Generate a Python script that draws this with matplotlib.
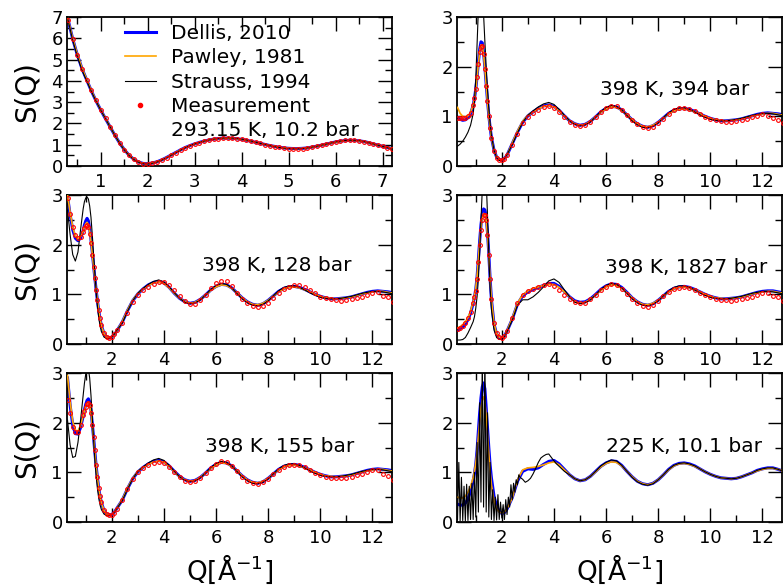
import matplotlib
matplotlib.use('Agg')
import matplotlib.pyplot as plt
from matplotlib.ticker import MultipleLocator
from matplotlib.lines import Line2D

# ---------------- data ----------------
# panel 1: 293.15 K, 10.2 bar
q_293 = [0.3, 0.4, 0.5, 0.6, 0.7, 0.8, 0.9, 1.0, 1.1, 1.2,
         1.3, 1.4, 1.5, 1.6, 1.7, 1.8, 1.9, 2.0, 2.1, 2.2,
         2.3, 2.4, 2.5, 2.6, 2.7, 2.8, 2.9, 3.0, 3.1, 3.2,
         3.3, 3.4, 3.5, 3.6, 3.7, 3.8, 3.9, 4.0, 4.1, 4.2,
         4.3, 4.4, 4.5, 4.6, 4.7, 4.8, 4.9, 5.0, 5.1, 5.2,
         5.3, 5.4, 5.5, 5.6, 5.7, 5.8, 5.9, 6.0, 6.1, 6.2,
         6.3, 6.4, 6.5, 6.6, 6.7, 6.8, 6.9, 7.0, 7.1, 7.2]
meas_293 = [6.85, 5.95, 5.20, 4.55, 4.05, 3.55, 3.08, 2.65, 2.25, 1.85,
            1.45, 1.08, 0.77, 0.51, 0.31, 0.18, 0.11, 0.10, 0.13, 0.19,
            0.28, 0.39, 0.51, 0.63, 0.75, 0.86, 0.95, 1.03, 1.10, 1.16,
            1.21, 1.25, 1.28, 1.30, 1.31, 1.30, 1.28, 1.25, 1.21, 1.16,
            1.11, 1.06, 1.01, 0.96, 0.91, 0.87, 0.84, 0.82, 0.81, 0.81,
            0.82, 0.84, 0.88, 0.92, 0.97, 1.03, 1.08, 1.13, 1.17, 1.20,
            1.21, 1.21, 1.19, 1.15, 1.10, 1.04, 0.98, 0.92, 0.86, 0.81]
dellis_293 = [6.90, 5.98, 5.22, 4.57, 4.04, 3.52, 3.05, 2.62, 2.22, 1.83,
              1.44, 1.08, 0.77, 0.51, 0.32, 0.19, 0.12, 0.11, 0.14, 0.20,
              0.29, 0.40, 0.52, 0.64, 0.76, 0.87, 0.96, 1.04, 1.11, 1.17,
              1.22, 1.26, 1.29, 1.31, 1.31, 1.30, 1.28, 1.25, 1.21, 1.16,
              1.11, 1.06, 1.01, 0.96, 0.92, 0.88, 0.85, 0.83, 0.82, 0.82,
              0.83, 0.85, 0.89, 0.93, 0.98, 1.03, 1.08, 1.13, 1.17, 1.19,
              1.21, 1.20, 1.18, 1.15, 1.10, 1.04, 0.98, 0.92, 0.87, 0.82]
pawley_293 = [6.92, 6.00, 5.25, 4.60, 4.06, 3.54, 3.06, 2.63, 2.23, 1.84,
              1.44, 1.08, 0.77, 0.51, 0.32, 0.19, 0.12, 0.11, 0.14, 0.20,
              0.29, 0.40, 0.52, 0.64, 0.76, 0.87, 0.96, 1.04, 1.11, 1.17,
              1.22, 1.26, 1.29, 1.30, 1.31, 1.30, 1.28, 1.25, 1.21, 1.16,
              1.11, 1.06, 1.01, 0.96, 0.92, 0.88, 0.85, 0.83, 0.82, 0.82,
              0.83, 0.85, 0.89, 0.93, 0.98, 1.03, 1.08, 1.12, 1.16, 1.19,
              1.20, 1.20, 1.18, 1.15, 1.10, 1.04, 0.98, 0.92, 0.87, 0.82]
strauss_293 = [6.88, 5.92, 5.15, 4.50, 4.00, 3.50, 3.04, 2.62, 2.22, 1.83,
               1.44, 1.07, 0.76, 0.50, 0.31, 0.18, 0.11, 0.10, 0.13, 0.19,
               0.28, 0.39, 0.51, 0.63, 0.75, 0.86, 0.96, 1.04, 1.11, 1.17,
               1.22, 1.26, 1.29, 1.31, 1.32, 1.31, 1.29, 1.26, 1.22, 1.17,
               1.12, 1.06, 1.01, 0.96, 0.91, 0.87, 0.84, 0.82, 0.81, 0.81,
               0.82, 0.85, 0.89, 0.93, 0.98, 1.03, 1.08, 1.13, 1.17, 1.20,
               1.21, 1.21, 1.19, 1.15, 1.10, 1.04, 0.98, 0.92, 0.86, 0.81]

# common Q grid for the 398 K and 225 K panels
q_grid = [0.3, 0.4, 0.5, 0.6, 0.7, 0.8, 0.9, 0.95, 1.0, 1.05,
          1.1, 1.15, 1.2, 1.25, 1.3, 1.35, 1.4, 1.45, 1.5, 1.55,
          1.6, 1.7, 1.8, 1.9, 2.0, 2.1, 2.2,
          2.4, 2.6, 2.8, 3.0, 3.2, 3.4, 3.6, 3.8, 4.0, 4.2,
          4.4, 4.6, 4.8, 5.0, 5.2, 5.4, 5.6, 5.8, 6.0, 6.2,
          6.4, 6.6, 6.8, 7.0, 7.2, 7.4, 7.6, 7.8, 8.0, 8.2,
          8.4, 8.6, 8.8, 9.0, 9.2, 9.4, 9.6, 9.8, 10.0, 10.2,
          10.4, 10.6, 10.8, 11.0, 11.2, 11.4, 11.6, 11.8, 12.0, 12.2,
          12.4, 12.6, 12.8]

# panel 2: 398 K, 394 bar
dellis_394 = [0.98, 0.94, 0.92, 0.93, 0.97, 1.05, 1.22, 1.36, 1.55, 1.80,
              2.08, 2.35, 2.50, 2.48, 2.28, 1.98, 1.65, 1.32, 1.02, 0.78,
              0.58, 0.32, 0.18, 0.13, 0.12, 0.15, 0.22,
              0.45, 0.68, 0.88, 1.01, 1.09, 1.16, 1.21, 1.23, 1.20, 1.12,
              1.01, 0.91, 0.85, 0.82, 0.84, 0.90, 0.99, 1.09, 1.16, 1.20,
              1.19, 1.13, 1.03, 0.93, 0.85, 0.80, 0.78, 0.81, 0.88, 0.97,
              1.06, 1.12, 1.15, 1.16, 1.14, 1.10, 1.05, 1.00, 0.96, 0.93,
              0.91, 0.91, 0.92, 0.93, 0.95, 0.98, 1.01, 1.04, 1.06, 1.07,
              1.06, 1.05, 1.03]
pawley_394 = [1.18, 1.06, 1.00, 0.99, 1.01, 1.08, 1.23, 1.36, 1.54, 1.78,
              2.05, 2.30, 2.44, 2.42, 2.24, 1.95, 1.63, 1.30, 1.00, 0.77,
              0.57, 0.32, 0.18, 0.13, 0.12, 0.15, 0.22,
              0.46, 0.70, 0.90, 1.02, 1.09, 1.15, 1.20, 1.22, 1.19, 1.11,
              1.01, 0.91, 0.85, 0.82, 0.84, 0.90, 0.99, 1.08, 1.15, 1.19,
              1.18, 1.12, 1.03, 0.93, 0.85, 0.80, 0.79, 0.82, 0.88, 0.97,
              1.05, 1.11, 1.14, 1.15, 1.13, 1.09, 1.05, 1.00, 0.96, 0.93,
              0.92, 0.91, 0.92, 0.93, 0.95, 0.98, 1.01, 1.03, 1.05, 1.06,
              1.06, 1.04, 1.02]
strauss_394 = [0.40, 0.44, 0.50, 0.58, 0.68, 0.82, 1.05, 1.30, 1.75, 2.45,
               3.15, 3.60, 3.75, 3.55, 3.05, 2.50, 2.00, 1.55, 1.15, 0.85,
               0.62, 0.32, 0.17, 0.11, 0.11, 0.15, 0.23,
               0.43, 0.67, 0.88, 1.02, 1.11, 1.19, 1.25, 1.28, 1.24, 1.14,
               1.02, 0.91, 0.84, 0.81, 0.83, 0.89, 0.99, 1.10, 1.18, 1.22,
               1.20, 1.13, 1.02, 0.91, 0.83, 0.78, 0.77, 0.80, 0.87, 0.97,
               1.07, 1.14, 1.17, 1.17, 1.14, 1.09, 1.03, 0.98, 0.94, 0.92,
               0.91, 0.91, 0.92, 0.94, 0.96, 0.99, 1.02, 1.04, 1.06, 1.06,
               1.05, 1.03, 1.01]
meas_394 = [0.97, 0.97, 0.96, 0.97, 1.00, 1.07, 1.22, 1.36, 1.55, 1.80,
            2.05, 2.30, 2.40, 2.42, 2.25, 1.95, 1.62, 1.30, 1.00, 0.76,
            0.56, 0.30, 0.17, 0.13, 0.12, 0.15, 0.22,
            0.42, 0.65, 0.86, 0.98, 1.06, 1.13, 1.18, 1.20, 1.17, 1.08,
            0.98, 0.88, 0.82, 0.80, 0.82, 0.88, 0.98, 1.08, 1.17, 1.21,
            1.20, 1.13, 1.02, 0.92, 0.84, 0.78, 0.76, 0.79, 0.86, 0.95,
            1.05, 1.12, 1.16, 1.17, 1.15, 1.11, 1.05, 0.99, 0.95, 0.92,
            0.90, 0.89, 0.89, 0.91, 0.93, 0.95, 0.98, 1.01, 1.05, 1.00,
            0.97, 0.93, 0.86]

# panel 3: 398 K, 128 bar
dellis_128 = [2.97, 2.60, 2.30, 2.13, 2.08, 2.13, 2.28, 2.40, 2.48, 2.53,
              2.48, 2.32, 2.10, 1.85, 1.58, 1.32, 1.08, 0.86, 0.66, 0.50,
              0.37, 0.21, 0.14, 0.12, 0.14, 0.19, 0.27,
              0.44, 0.67, 0.87, 1.01, 1.11, 1.19, 1.24, 1.26, 1.23, 1.14,
              1.02, 0.92, 0.85, 0.82, 0.84, 0.90, 0.99, 1.09, 1.16, 1.20,
              1.19, 1.13, 1.03, 0.93, 0.85, 0.80, 0.78, 0.81, 0.88, 0.97,
              1.06, 1.12, 1.15, 1.16, 1.14, 1.10, 1.05, 1.00, 0.96, 0.93,
              0.91, 0.91, 0.92, 0.93, 0.95, 0.98, 1.01, 1.04, 1.06, 1.07,
              1.06, 1.05, 1.03]
pawley_128 = [3.00, 2.65, 2.35, 2.18, 2.12, 2.16, 2.27, 2.36, 2.42, 2.45,
              2.40, 2.26, 2.05, 1.82, 1.56, 1.31, 1.07, 0.86, 0.66, 0.50,
              0.37, 0.21, 0.14, 0.12, 0.14, 0.19, 0.27,
              0.45, 0.68, 0.88, 1.02, 1.11, 1.18, 1.23, 1.25, 1.22, 1.13,
              1.02, 0.92, 0.85, 0.82, 0.84, 0.90, 0.99, 1.08, 1.15, 1.19,
              1.18, 1.12, 1.03, 0.93, 0.85, 0.80, 0.79, 0.82, 0.88, 0.97,
              1.05, 1.11, 1.14, 1.15, 1.13, 1.09, 1.05, 1.00, 0.96, 0.93,
              0.92, 0.91, 0.92, 0.93, 0.95, 0.98, 1.01, 1.03, 1.05, 1.06,
              1.06, 1.04, 1.02]
strauss_128 = [2.70, 2.20, 1.80, 1.67, 1.85, 2.30, 2.72, 2.87, 2.94, 2.96,
               2.92, 2.78, 2.55, 2.20, 1.80, 1.40, 1.05, 0.75, 0.52, 0.36,
               0.25, 0.14, 0.11, 0.11, 0.14, 0.20, 0.28,
               0.42, 0.66, 0.87, 1.02, 1.12, 1.20, 1.26, 1.29, 1.25, 1.15,
               1.03, 0.92, 0.84, 0.81, 0.83, 0.89, 0.99, 1.10, 1.18, 1.22,
               1.20, 1.13, 1.02, 0.91, 0.83, 0.78, 0.77, 0.80, 0.87, 0.97,
               1.07, 1.14, 1.17, 1.17, 1.14, 1.09, 1.03, 0.98, 0.94, 0.92,
               0.91, 0.91, 0.92, 0.94, 0.96, 0.99, 1.02, 1.04, 1.06, 1.06,
               1.05, 1.03, 1.01]
meas_128 = [2.94, 2.62, 2.36, 2.20, 2.13, 2.16, 2.26, 2.33, 2.38, 2.40,
            2.36, 2.22, 2.03, 1.80, 1.56, 1.33, 1.09, 0.89, 0.69, 0.52,
            0.39, 0.22, 0.15, 0.13, 0.15, 0.20, 0.28,
            0.42, 0.62, 0.85, 0.99, 1.08, 1.15, 1.21, 1.25, 1.25, 1.18,
            1.08, 0.97, 0.87, 0.81, 0.81, 0.88, 0.99, 1.12, 1.22, 1.27,
            1.26, 1.16, 1.03, 0.91, 0.82, 0.76, 0.74, 0.76, 0.82, 0.92,
            1.02, 1.10, 1.15, 1.19, 1.19, 1.15, 1.09, 1.02, 0.95, 0.92,
            0.90, 0.88, 0.87, 0.88, 0.90, 0.92, 0.95, 0.99, 1.03, 1.05,
            0.96, 0.94, 0.85]

# panel 4: 398 K, 1827 bar
dellis_1827 = [0.28, 0.31, 0.34, 0.40, 0.49, 0.62, 0.82, 0.95, 1.10, 1.35,
               1.70, 2.08, 2.40, 2.62, 2.72, 2.70, 2.56, 2.25, 1.82, 1.32,
               0.90, 0.40, 0.20, 0.13, 0.12, 0.16, 0.26,
               0.50, 0.80, 0.97, 1.05, 1.10, 1.14, 1.18, 1.22, 1.22, 1.16,
               1.06, 0.95, 0.87, 0.84, 0.85, 0.91, 1.00, 1.10, 1.17, 1.21,
               1.20, 1.14, 1.04, 0.93, 0.85, 0.80, 0.78, 0.81, 0.88, 0.97,
               1.06, 1.12, 1.15, 1.16, 1.14, 1.10, 1.05, 1.00, 0.96, 0.93,
               0.91, 0.91, 0.92, 0.93, 0.95, 0.98, 1.01, 1.04, 1.06, 1.07,
               1.07, 1.05, 1.03]
pawley_1827 = [0.32, 0.35, 0.39, 0.45, 0.53, 0.66, 0.85, 0.98, 1.13, 1.37,
               1.70, 2.05, 2.35, 2.55, 2.63, 2.61, 2.48, 2.20, 1.79, 1.31,
               0.90, 0.41, 0.21, 0.14, 0.12, 0.16, 0.26,
               0.52, 0.82, 0.99, 1.07, 1.12, 1.15, 1.18, 1.20, 1.20, 1.14,
               1.05, 0.95, 0.85, 0.82, 0.84, 0.90, 0.99, 1.08, 1.15, 1.19,
               1.18, 1.12, 1.03, 0.93, 0.85, 0.80, 0.79, 0.82, 0.88, 0.97,
               1.05, 1.11, 1.14, 1.15, 1.13, 1.09, 1.05, 1.00, 0.96, 0.93,
               0.92, 0.91, 0.92, 0.93, 0.95, 0.98, 1.01, 1.03, 1.05, 1.06,
               1.06, 1.04, 1.02]
strauss_1827 = [0.08, 0.08, 0.09, 0.13, 0.22, 0.33, 0.45, 0.55, 0.72, 0.95,
                1.30, 1.85, 2.50, 3.10, 3.60, 3.70, 3.30, 2.60, 1.80, 1.15,
                0.70, 0.28, 0.13, 0.09, 0.10, 0.15, 0.25,
                0.48, 0.78, 0.89, 0.89, 0.95, 1.04, 1.15, 1.27, 1.31, 1.24,
                1.09, 0.95, 0.84, 0.81, 0.83, 0.89, 0.99, 1.10, 1.18, 1.22,
                1.20, 1.13, 1.02, 0.91, 0.83, 0.78, 0.77, 0.80, 0.87, 0.97,
                1.07, 1.14, 1.17, 1.17, 1.14, 1.09, 1.03, 0.98, 0.94, 0.92,
                0.91, 0.91, 0.92, 0.94, 0.96, 0.99, 1.02, 1.04, 1.06, 1.06,
                1.05, 1.03, 1.01]
meas_1827 = [0.30, 0.33, 0.37, 0.43, 0.52, 0.65, 0.82, 0.94, 1.07, 1.30,
             1.65, 2.00, 2.30, 2.50, 2.60, 2.60, 2.50, 2.20, 1.80, 1.30,
             0.90, 0.42, 0.22, 0.14, 0.12, 0.16, 0.26,
             0.52, 0.82, 0.98, 1.06, 1.11, 1.15, 1.18, 1.20, 1.17, 1.08,
             0.98, 0.90, 0.85, 0.83, 0.83, 0.90, 0.99, 1.08, 1.15, 1.20,
             1.19, 1.11, 1.00, 0.90, 0.82, 0.76, 0.75, 0.79, 0.87, 0.97,
             1.05, 1.10, 1.13, 1.14, 1.13, 1.08, 1.03, 0.98, 0.94, 0.91,
             0.89, 0.88, 0.87, 0.88, 0.90, 0.93, 0.95, 0.98, 1.02, 1.03,
             0.97, 0.95, 0.87]

# panel 5: 398 K, 155 bar
dellis_155 = [2.90, 2.35, 1.95, 1.78, 1.77, 1.90, 2.13, 2.26, 2.37, 2.45,
              2.48, 2.42, 2.25, 1.98, 1.70, 1.40, 1.12, 0.88, 0.67, 0.51,
              0.39, 0.23, 0.16, 0.14, 0.15, 0.20, 0.28,
              0.44, 0.67, 0.87, 1.01, 1.10, 1.17, 1.22, 1.24, 1.21, 1.13,
              1.02, 0.92, 0.85, 0.82, 0.84, 0.90, 0.99, 1.09, 1.16, 1.20,
              1.19, 1.13, 1.03, 0.93, 0.85, 0.80, 0.78, 0.81, 0.88, 0.97,
              1.06, 1.12, 1.15, 1.16, 1.14, 1.10, 1.05, 1.00, 0.96, 0.93,
              0.91, 0.91, 0.92, 0.93, 0.95, 0.98, 1.01, 1.04, 1.06, 1.07,
              1.06, 1.05, 1.03]
pawley_155 = [2.95, 2.42, 2.02, 1.85, 1.83, 1.94, 2.14, 2.25, 2.34, 2.40,
              2.42, 2.36, 2.20, 1.95, 1.68, 1.39, 1.11, 0.87, 0.67, 0.51,
              0.39, 0.23, 0.16, 0.14, 0.15, 0.20, 0.28,
              0.45, 0.68, 0.88, 1.02, 1.10, 1.16, 1.21, 1.23, 1.20, 1.12,
              1.01, 0.91, 0.85, 0.82, 0.84, 0.90, 0.99, 1.08, 1.15, 1.19,
              1.18, 1.12, 1.03, 0.93, 0.85, 0.80, 0.79, 0.82, 0.88, 0.97,
              1.05, 1.11, 1.14, 1.15, 1.13, 1.09, 1.05, 1.00, 0.96, 0.93,
              0.92, 0.91, 0.92, 0.93, 0.95, 0.98, 1.01, 1.03, 1.05, 1.06,
              1.06, 1.04, 1.02]
strauss_155 = [2.05, 1.55, 1.30, 1.32, 1.60, 2.05, 2.55, 2.80, 2.98, 3.08,
               3.08, 2.90, 2.55, 2.10, 1.65, 1.25, 0.92, 0.66, 0.47, 0.34,
               0.25, 0.16, 0.13, 0.13, 0.15, 0.20, 0.28,
               0.43, 0.66, 0.87, 1.02, 1.11, 1.19, 1.25, 1.28, 1.24, 1.14,
               1.02, 0.91, 0.84, 0.81, 0.83, 0.89, 0.99, 1.10, 1.18, 1.22,
               1.20, 1.13, 1.02, 0.91, 0.83, 0.78, 0.77, 0.80, 0.87, 0.97,
               1.07, 1.14, 1.17, 1.17, 1.14, 1.09, 1.03, 0.98, 0.94, 0.92,
               0.91, 0.91, 0.92, 0.94, 0.96, 0.99, 1.02, 1.04, 1.06, 1.06,
               1.05, 1.03, 1.01]
meas_155 = [2.46, 2.20, 1.92, 1.81, 1.82, 1.95, 2.15, 2.24, 2.32, 2.37,
            2.40, 2.36, 2.20, 1.95, 1.72, 1.45, 1.15, 0.90, 0.68, 0.52,
            0.40, 0.24, 0.17, 0.14, 0.14, 0.19, 0.27,
            0.44, 0.66, 0.87, 1.00, 1.08, 1.14, 1.19, 1.21, 1.19, 1.11,
            1.00, 0.90, 0.83, 0.81, 0.82, 0.88, 0.98, 1.09, 1.17, 1.22,
            1.21, 1.13, 1.02, 0.91, 0.83, 0.78, 0.77, 0.80, 0.87, 0.96,
            1.05, 1.11, 1.14, 1.15, 1.14, 1.10, 1.04, 0.98, 0.94, 0.91,
            0.89, 0.88, 0.88, 0.89, 0.91, 0.94, 0.97, 1.00, 1.04, 1.05,
            0.96, 0.93, 0.85]

# panel 6: 225 K, 10.1 bar (no measurement)
dellis_225 = [0.36, 0.34, 0.34, 0.38, 0.46, 0.62, 0.83, 0.98, 1.16, 1.45,
              1.83, 2.20, 2.50, 2.72, 2.80, 2.68, 2.30, 1.90, 1.50, 1.15,
              0.89, 0.52, 0.32, 0.22, 0.17, 0.19, 0.26,
              0.49, 0.82, 1.02, 1.07, 1.06, 1.09, 1.16, 1.22, 1.24, 1.17,
              1.06, 0.95, 0.87, 0.83, 0.85, 0.92, 1.02, 1.12, 1.19, 1.23,
              1.22, 1.14, 1.02, 0.91, 0.82, 0.77, 0.75, 0.78, 0.85, 0.95,
              1.06, 1.14, 1.18, 1.19, 1.17, 1.13, 1.07, 1.01, 0.96, 0.92,
              0.89, 0.88, 0.87, 0.88, 0.91, 0.95, 0.99, 1.04, 1.07, 1.09,
              1.09, 1.06, 1.02]
pawley_225 = [0.50, 0.48, 0.48, 0.52, 0.60, 0.72, 0.89, 1.02, 1.18, 1.42,
              1.72, 2.02, 2.28, 2.46, 2.52, 2.42, 2.12, 1.76, 1.38, 1.02,
              0.75, 0.42, 0.27, 0.20, 0.18, 0.20, 0.27,
              0.48, 0.85, 1.05, 1.09, 1.10, 1.12, 1.15, 1.19, 1.21, 1.15,
              1.05, 0.95, 0.87, 0.83, 0.85, 0.92, 1.01, 1.11, 1.18, 1.21,
              1.20, 1.13, 1.02, 0.91, 0.82, 0.77, 0.75, 0.78, 0.85, 0.95,
              1.05, 1.13, 1.17, 1.18, 1.16, 1.12, 1.07, 1.01, 0.96, 0.92,
              0.89, 0.88, 0.87, 0.88, 0.91, 0.95, 0.99, 1.03, 1.06, 1.08,
              1.08, 1.06, 1.02]
q_strauss_225 = [0.30, 0.35, 0.40, 0.45, 0.50, 0.55, 0.60, 0.65, 0.70, 0.75,
                 0.80, 0.85, 0.90, 0.95, 1.00, 1.05, 1.10, 1.15, 1.20, 1.25,
                 1.30, 1.35, 1.40, 1.45, 1.50, 1.55, 1.60, 1.65, 1.70, 1.75,
                 1.80, 1.85, 1.90, 1.95, 2.00, 2.05, 2.10, 2.15, 2.20, 2.25,
                 2.30, 2.35, 2.40, 2.45, 2.50, 2.55, 2.60, 2.65, 2.70,
                 2.8, 2.9, 3.0, 3.1, 3.2, 3.3, 3.4, 3.5, 3.6, 3.7,
                 3.8, 3.9, 4.0, 4.1, 4.2, 4.3, 4.4,
                 4.6, 4.8, 5.0, 5.2, 5.4, 5.6, 5.8, 6.0, 6.2, 6.4,
                 6.6, 6.8, 7.0, 7.2, 7.4, 7.6, 7.8, 8.0, 8.2, 8.4,
                 8.6, 8.8, 9.0, 9.2, 9.4, 9.6, 9.8, 10.0, 10.2, 10.4,
                 10.6, 10.8, 11.0, 11.2, 11.4, 11.6, 11.8, 12.0, 12.2, 12.4,
                 12.6, 12.8]
strauss_225 = [0.05, 1.20, 0.02, 0.90, 0.03, 0.72, 0.02, 0.76, 0.03, 0.72,
               0.05, 0.78, 0.05, 1.00, 0.10, 1.60, 0.20, 2.40, 0.40, 3.30,
               0.30, 3.40, 0.20, 2.20, 0.10, 1.20, 0.05, 0.65, 0.03, 0.50,
               0.04, 0.55, 0.05, 0.40, 0.08, 0.35, 0.05, 0.45, 0.15, 0.50,
               0.30, 0.75, 0.45, 0.78, 0.60, 0.85, 0.75, 0.95, 0.90,
               0.86, 0.80, 0.83, 0.88, 0.97, 1.08, 1.20, 1.29, 1.33, 1.36,
               1.37, 1.30, 1.23, 1.17, 1.12, 1.07, 1.02,
               0.95, 0.87, 0.83, 0.85, 0.92, 1.02, 1.13, 1.20, 1.25, 1.23,
               1.14, 1.02, 0.90, 0.81, 0.76, 0.74, 0.77, 0.85, 0.95, 1.06,
               1.14, 1.18, 1.19, 1.17, 1.13, 1.07, 1.01, 0.96, 0.92, 0.89,
               0.88, 0.87, 0.88, 0.91, 0.95, 0.99, 1.04, 1.07, 1.09, 1.09,
               1.06, 1.02]

labels_cond = ['398 K, 394 bar', '398 K, 128 bar', '398 K, 1827 bar',
               '398 K, 155 bar', '225 K, 10.1 bar']
legend_labels = ['Dellis, 2010', 'Pawley, 1981', 'Strauss, 1994',
                 'Measurement', '293.15 K, 10.2 bar']

# ---------------- figure ----------------
W, H = 784, 587
fig = plt.figure(figsize=(W / 100, H / 100), dpi=100)


def add_ax(l, t, r, b):
    return fig.add_axes([l / W, 1 - b / H, (r - l) / W, (b - t) / H])


ax1 = add_ax(67, 17, 392, 166)
ax2 = add_ax(457, 17, 782, 166)
ax3 = add_ax(67, 195, 392, 344)
ax4 = add_ax(457, 195, 782, 344)
ax5 = add_ax(67, 373, 392, 522)
ax6 = add_ax(457, 373, 782, 522)

BLUE, ORANGE = '#0000ff', '#ffa500'


def draw(ax, q, d, p, s, m=None, qs=None):
    ax.plot(q, d, color=BLUE, lw=2.2, zorder=2)
    ax.plot(q, p, color=ORANGE, lw=1.2, zorder=3)
    ax.plot(qs if qs is not None else q, s, color='black', lw=0.8, zorder=4)
    if m is not None:
        ax.plot(q, m, ls='none', marker='o', ms=2.7, mfc='none',
                mec='red', mew=0.8, zorder=5)


draw(ax1, q_293, dellis_293, pawley_293, strauss_293, meas_293)
draw(ax2, q_grid, dellis_394, pawley_394, strauss_394, meas_394)
draw(ax3, q_grid, dellis_128, pawley_128, strauss_128, meas_128)
draw(ax4, q_grid, dellis_1827, pawley_1827, strauss_1827, meas_1827)
draw(ax5, q_grid, dellis_155, pawley_155, strauss_155, meas_155)
draw(ax6, q_grid, dellis_225, pawley_225, strauss_225, qs=q_strauss_225)

for ax in (ax1, ax2, ax3, ax4, ax5, ax6):
    ax.tick_params(which='both', direction='in', top=True, right=True,
                   labelsize=13, width=1)
    ax.tick_params(which='major', length=10)
    ax.tick_params(which='minor', length=5)
    ax.tick_params(axis='x', pad=5)
    ax.tick_params(axis='y', pad=3)
    for sp in ax.spines.values():
        sp.set_linewidth(1.3)

ax1.set_xlim(0.28, 7.2)
ax1.set_ylim(0, 7)
ax1.xaxis.set_major_locator(MultipleLocator(1))
ax1.xaxis.set_minor_locator(MultipleLocator(0.5))
ax1.yaxis.set_major_locator(MultipleLocator(1))
ax1.yaxis.set_minor_locator(MultipleLocator(0.5))

for ax in (ax2, ax3, ax4, ax5, ax6):
    ax.set_xlim(0.28, 12.75)
    ax.set_ylim(0, 3)
    ax.xaxis.set_major_locator(MultipleLocator(2))
    ax.xaxis.set_minor_locator(MultipleLocator(1))
    ax.yaxis.set_major_locator(MultipleLocator(1))
    ax.yaxis.set_minor_locator(MultipleLocator(0.5))

text_pos = [(ax2, 5.75, 1.54), (ax3, 5.45, 1.59), (ax4, 5.95, 1.54),
            (ax5, 5.56, 1.52), (ax6, 5.99, 1.53)]
for (ax, x, y), lab in zip(text_pos, labels_cond):
    ax.text(x, y, lab, fontsize=14.5, ha='left', va='center', zorder=6)

for ax in (ax1, ax3, ax5):
    ax.set_ylabel('S(Q)', fontsize=20)
    ax.yaxis.set_label_coords(-0.08, 0.5)
for ax in (ax5, ax6):
    ax.set_xlabel('Q[Å$^{-1}$]', fontsize=19)
    ax.xaxis.set_label_coords(0.5, -0.205)

handles = [Line2D([], [], color=BLUE, lw=2.2),
           Line2D([], [], color=ORANGE, lw=1.2),
           Line2D([], [], color='black', lw=0.8),
           Line2D([], [], ls='none', marker='o', ms=3, color='red'),
           Line2D([], [], ls='none')]
ax1.legend(handles, legend_labels, loc='upper left',
           bbox_to_anchor=(0.178, 0.955), frameon=False, fontsize=14.5,
           handlelength=1.55, handletextpad=0.72, labelspacing=0.27,
           borderpad=0, borderaxespad=0, numpoints=1)

fig.savefig('out.png', dpi=100)
